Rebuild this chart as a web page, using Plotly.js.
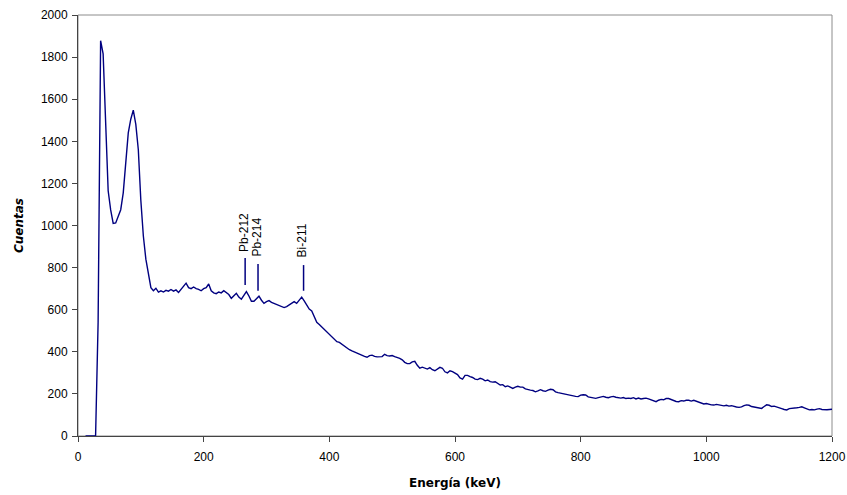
<!DOCTYPE html>
<html>
<head>
<meta charset="utf-8">
<script src="https://cdn.plot.ly/plotly-3.0.1.min.js"></script>
<style>html,body{margin:0;padding:0;background:#fff;}#chart{width:847px;height:495px;}</style>
</head>
<body>
<div id="chart"></div>
<script>
// Spectrum: counts every 4 keV starting at 12 keV
const energyStart = 12;
const energyStep = 4;
const counts = [
  0,0,0,0,0,540,1878,1815,1450,1165,
  1074,1010,1012,1045,1075,1155,1295,1440,1505,1548,
  1480,1360,1120,950,840,774,705,690,702,684,
  690,684,692,688,696,688,694,682,695,708,
  726,705,700,708,700,697,690,700,705,722,
  690,680,676,684,680,690,681,672,654,668,
  678,660,650,668,686,665,640,640,650,664,
  645,630,638,643,635,630,626,620,614,610,
  615,624,632,638,630,648,660,642,624,603,
  594,570,540,530,518,505,494,480,468,458,
  448,445,436,426,420,410,404,398,392,386,
  380,378,374,382,384,378,376,378,377,388,
  382,380,382,377,374,369,362,350,344,344,
  352,355,336,322,327,322,318,325,315,310,
  320,326,322,305,300,310,306,298,292,276,
  270,288,288,282,278,270,268,274,270,262,
  266,258,256,258,248,242,244,234,238,230,
  226,232,236,232,232,224,220,218,216,210,
  214,220,215,212,218,222,220,210,206,203,
  200,198,195,192,190,188,187,194,196,195,
  186,184,182,179,182,186,188,184,182,186,
  188,184,182,180,183,178,180,178,182,176,
  180,176,178,180,176,172,168,163,170,174,
  172,178,178,172,168,164,163,168,166,170,
  170,166,170,166,160,156,152,154,150,148,
  147,150,148,146,143,146,142,144,140,138,
  136,138,144,148,146,140,138,136,133,131,
  140,148,146,140,142,139,136,130,126,124,
  130,131,130,134,136,139,134,128,124,126,
  124,128,130,126,124,125,126,127
];

// Peak labels
const peakNames = ["Pb-212", "Pb-214", "Bi-211"];
const peakEnergies = [266, 286.5, 359];
const markerLow = [717, 690, 690];
const markerHigh = [846, 817, 812];
const labelEnergies = [264, 285.7, 356.5];
const labelCounts = [969, 945, 929];

const xTicks = [0, 200, 400, 600, 800, 1000, 1200];
const yTicks = [0, 200, 400, 600, 800, 1000, 1200, 1400, 1600, 1800, 2000];

const navy = "#000080";

const shapes = [{
  type: "rect", xref: "paper", yref: "paper", x0: 0, x1: 1, y0: 0, y1: 1,
  line: {color: "#8c8c8c", width: 1}, layer: "below"
}];
peakEnergies.forEach((e, i) => {
  shapes.push({type: "line", xref: "x", yref: "y", x0: e, x1: e, y0: markerLow[i], y1: markerHigh[i],
    line: {color: navy, width: 1.5}});
});

const annotations = peakNames.map((n, i) => ({
  x: labelEnergies[i], y: labelCounts[i], xref: "x", yref: "y", text: n, showarrow: false,
  textangle: -90, xanchor: "center", yanchor: "middle",
  font: {family: "Liberation Sans, Arial, sans-serif", size: 12, color: "#000"}
}));

const trace = {
  type: "scatter", mode: "lines",
  x0: energyStart, dx: energyStep, y: counts,
  line: {color: navy, width: 1.4},
  hoverinfo: "skip"
};

const tickFont = {family: "Liberation Sans, Arial, sans-serif", size: 12, color: "#000"};
const titleFont = {family: "DejaVu Sans, sans-serif", size: 12, color: "#000", weight: "bold"};

const layout = {
  width: 847, height: 495,
  margin: {l: 78, r: 15, t: 15, b: 59},
  paper_bgcolor: "#fff", plot_bgcolor: "#fff",
  showlegend: false,
  xaxis: {
    range: [0, 1200], tickvals: xTicks, ticktext: xTicks.map(String),
    ticks: "outside", ticklen: 5, tickcolor: "#444", tickwidth: 1,
    showline: true, linecolor: "#444", linewidth: 1, showgrid: false, zeroline: false,
    tickfont: tickFont, ticklabelstandoff: 5,
    title: {text: "Energía (keV)", font: titleFont, standoff: 15}
  },
  yaxis: {
    range: [0, 2000], tickvals: yTicks, ticktext: yTicks.map(String),
    ticks: "outside", ticklen: 5, tickcolor: "#444", tickwidth: 1,
    showline: true, linecolor: "#444", linewidth: 1, showgrid: false, zeroline: false,
    tickfont: tickFont, ticklabelstandoff: 2,
    title: {text: "<i>Cuentas</i>", font: titleFont, standoff: 14}
  },
  shapes: shapes,
  annotations: annotations
};

Plotly.newPlot("chart", [trace], layout, {displayModeBar: false, staticPlot: true});
</script>
</body>
</html>
